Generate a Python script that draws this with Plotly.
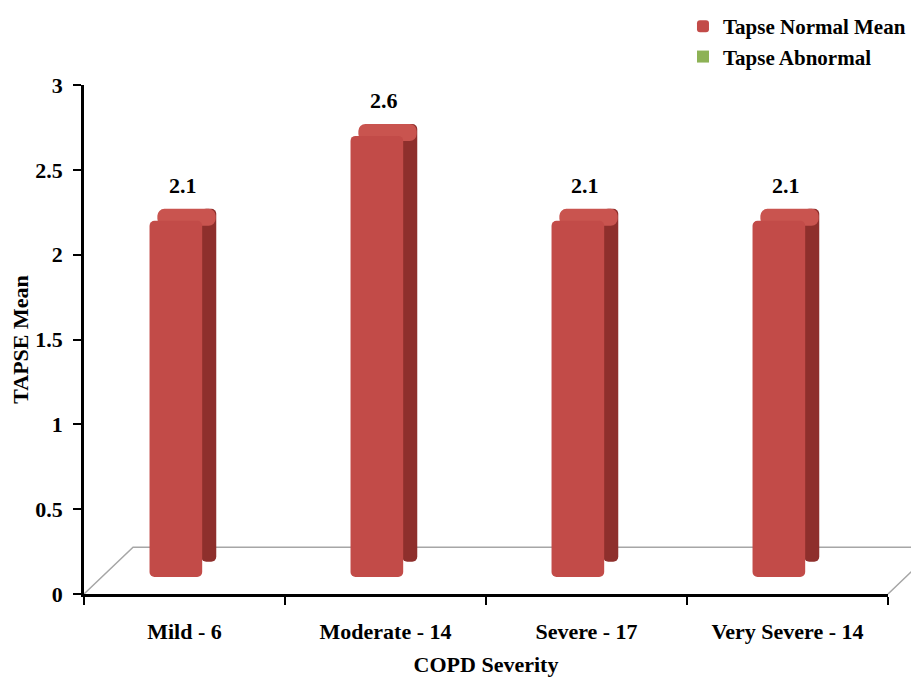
import plotly.graph_objects as go

categories = ["Mild - 6", "Moderate - 14", "Severe - 17", "Very Severe - 14"]
tapse_normal_mean = [2.1, 2.6, 2.1, 2.1]
tapse_abnormal = [None, None, None, None]
y_ticks = [0, 0.5, 1, 1.5, 2, 2.5, 3]
y_tick_labels = ["0", "0.5", "1", "1.5", "2", "2.5", "3"]

FONT = "Liberation Serif, Times New Roman, serif"
FRONT = "#C24B48"
SIDE = "#8E2F2C"
TOP = "#C9544F"
GREEN = "#8DB255"

FLOOR = 0.1      # raised base for the 3D look
DEPTH = 0.07     # height of top face

fig = go.Figure()

# side face (darker)
fig.add_trace(go.Bar(
    x=categories, y=[v + FLOOR + DEPTH - 0.19 for v in tapse_normal_mean], base=0.19,
    width=0.075, offset=0.083, marker=dict(color=SIDE, line=dict(width=0), cornerradius=5),
    showlegend=False, hoverinfo="skip"))
# top face (lighter)
fig.add_trace(go.Bar(
    x=categories, y=[DEPTH + 0.03] * len(categories),
    base=[v + FLOOR - 0.03 for v in tapse_normal_mean],
    width=0.29, offset=-0.135, marker=dict(color=TOP, line=dict(width=0), cornerradius=7),
    showlegend=False, hoverinfo="skip"))
# front face
fig.add_trace(go.Bar(
    x=categories, y=tapse_normal_mean, base=FLOOR,
    width=0.262, offset=-0.174, name="Tapse Normal Mean",
    marker=dict(color=FRONT, line=dict(width=0), cornerradius=5)))
fig.add_trace(go.Bar(
    x=categories, y=tapse_abnormal, name="Tapse Abnormal",
    marker=dict(color=GREEN, line=dict(width=0))))

for c, v in zip(categories, tapse_normal_mean):
    fig.add_annotation(x=c, y=v + FLOOR + DEPTH, text=f"{v:g}", showarrow=False,
                       yanchor="bottom", yshift=9, xshift=-2,
                       font=dict(family=FONT, size=22, color="black", weight="bold"))

# floor of the 3D plot area
fig.add_shape(type="path", xref="paper", yref="paper",
              path="M 0,0 L 0.061,0.092 L 1.061,0.092 M 1,0 L 1.061,0.092",
              line=dict(color="#A6A6A6", width=1.5), layer="below")

# page body has an 8px margin, so the figure is sized/margined to compensate
fig.update_layout(
    width=911, height=681,
    margin=dict(l=76, r=31, t=77, b=95, autoexpand=False),
    paper_bgcolor="white", plot_bgcolor="white",
    barmode="overlay",
    font=dict(family=FONT, size=22, color="black", weight="bold"),
    legend=dict(x=0.745, y=1.155, xanchor="left", yanchor="top",
                font=dict(family=FONT, size=21, color="black", weight="bold"),
                bgcolor="rgba(0,0,0,0)", tracegroupgap=0, itemwidth=30),
    showlegend=True,
)
fig.update_xaxes(
    type="category", range=[-0.5, 3.5], automargin=False,
    showline=True, linecolor="black", linewidth=2.5,
    ticks="outside", tickson="boundaries", ticklen=8, tickwidth=2, tickcolor="black",
    ticklabelstandoff=16, showgrid=False,
    title=dict(text="COPD Severity", standoff=14,
               font=dict(family=FONT, size=22, color="black", weight="bold")),
)
fig.update_yaxes(
    range=[0, 3], tickvals=y_ticks, ticktext=y_tick_labels, automargin=False,
    showline=True, linecolor="black", linewidth=2.5,
    ticks="outside", ticklen=8, tickwidth=2, tickcolor="black",
    ticklabelstandoff=6, showgrid=False, zeroline=False,
    title=dict(text="TAPSE Mean", standoff=14,
               font=dict(family=FONT, size=22, color="black", weight="bold")),
)

fig.write_html("out.html")
